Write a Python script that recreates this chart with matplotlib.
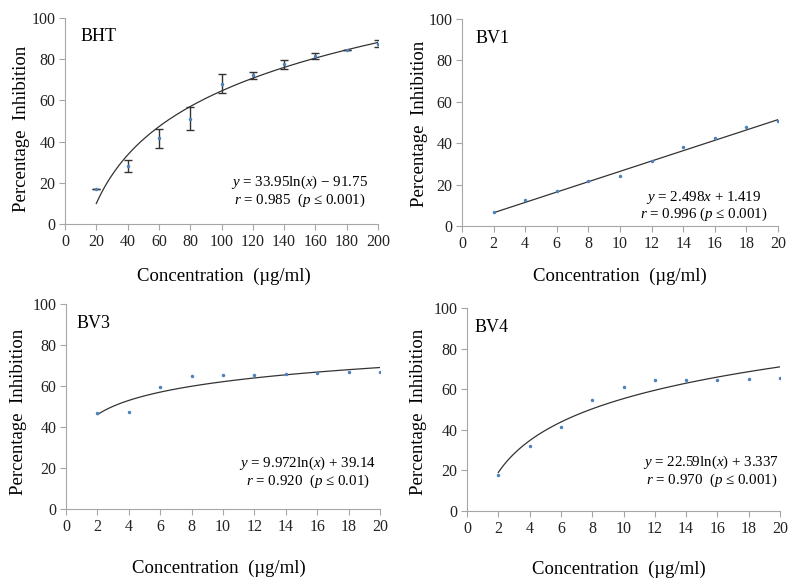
import numpy as np
import matplotlib
matplotlib.use("Agg")
import matplotlib.pyplot as plt

plt.rcParams["font.family"] = ["Liberation Serif", "DejaVu Serif"]
plt.rcParams["mathtext.fontset"] = "custom"
plt.rcParams["mathtext.rm"] = "Liberation Serif"
plt.rcParams["mathtext.it"] = "Liberation Serif:italic"

# BHT (with error bars)
bht_x = [20, 40, 60, 80, 100, 120, 140, 160, 180, 200]
bht_y = [16.8, 28.2, 41.7, 51.1, 68.1, 72.2, 77.6, 81.5, 84.5, 87.6]
bht_err = [0.0, 2.8, 4.6, 5.7, 4.5, 1.8, 2.2, 1.6, 0.2, 1.9]

# BV samples
bv_x = [2, 4, 6, 8, 10, 12, 14, 16, 18, 20]
bv1_y = [6.8, 12.8, 17.0, 21.7, 24.2, 31.4, 38.1, 42.3, 47.8, 50.8]
bv3_y = [46.6, 47.1, 59.3, 65.1, 65.4, 65.5, 65.8, 66.2, 66.6, 66.8]
bv4_y = [17.8, 32.0, 41.3, 54.8, 61.1, 64.7, 64.3, 64.3, 65.0, 65.3]

# trendline coefficients (as printed on the chart)
bht_fit = (33.95, -91.75)   # log
bv1_fit = (2.498, 1.419)    # linear
bv3_fit = (9.972, 39.14)    # log
bv4_fit = (22.59, 3.337)    # log

bht_eq = [r"$\mathit{y}$ = 33.95ln($\mathit{x}$) − 91.75", r"$\mathit{r}$ = 0.985  ($\mathit{p}$ ≤ 0.001)"]
bv1_eq = [r"$\mathit{y}$ = 2.498$\mathit{x}$ + 1.419", r"$\mathit{r}$ = 0.996 ($\mathit{p}$ ≤ 0.001)"]
bv3_eq = [r"$\mathit{y}$ = 9.972ln($\mathit{x}$) + 39.14", r"$\mathit{r}$ = 0.920  ($\mathit{p}$ ≤ 0.01)"]
bv4_eq = [r"$\mathit{y}$ = 22.59ln($\mathit{x}$) + 3.337", r"$\mathit{r}$ = 0.970  ($\mathit{p}$ ≤ 0.001)"]

W, H = 799, 584
fig = plt.figure(figsize=(W / 100, H / 100), dpi=100)

grey = "#a6a6a6"
dot = "#4f81bd"


def make_ax(l, r, t, b, xlab_pos, ylab_pos):
    ax = fig.add_axes([l / W, 1 - b / H, (r - l) / W, (b - t) / H])
    for s in ["top", "right"]:
        ax.spines[s].set_visible(False)
    for s in ["left", "bottom"]:
        ax.spines[s].set_color(grey)
        ax.spines[s].set_linewidth(0.8)
    ax.tick_params(direction="out", length=4, width=0.8, color=grey,
                   labelsize=11.5, labelcolor="#222222", pad=3)
    ax.set_ylim(0, 100)
    ax.set_yticks([0, 20, 40, 60, 80, 100])
    ax.set_xlabel("Concentration  (µg/ml)", fontsize=13.5)
    ax.set_ylabel("Percentage  Inhibition", fontsize=13.5)
    ax.xaxis.set_label_coords(*xlab_pos)
    ax.yaxis.set_label_coords(*ylab_pos)
    return ax


def add_eq(ax, lines, xc, y1, y2):
    ax.text(xc, y1, lines[0], ha="center", va="center", fontsize=10.8)
    ax.text(xc, y2, lines[1], ha="center", va="center", fontsize=10.8)


# panel 1: BHT
ax1 = make_ax(65, 378, 18, 224, (0.508, -0.212), (-0.111, 0.464))
ax1.set_xlim(0, 200)
ax1.set_xticks(range(0, 201, 20))
ax1.errorbar(bht_x, bht_y, yerr=bht_err, fmt="o", ms=1.5, color=dot,
             ecolor="#333333", elinewidth=1.0, capsize=3, capthick=1.0)
xx = np.linspace(20, 200, 200)
ax1.plot(xx, bht_fit[0] * np.log(xx) + bht_fit[1], color="#333333", lw=0.9)
ax1.text(10, 89, "BHT", fontsize=13)
add_eq(ax1, bht_eq, 150, 20.2, 11.4)

# panel 2: BV1
ax2 = make_ax(462, 778, 19, 226, (0.5, -0.202), (-0.108, 0.493))
ax2.set_xlim(0, 20)
ax2.set_xticks(range(0, 21, 2))
xx = np.linspace(2, 20, 100)
ax2.plot(xx, bv1_fit[0] * xx + bv1_fit[1], color="#333333", lw=0.9)
ax2.plot(bv_x, bv1_y, "o", ms=1.5, color=dot)
ax2.text(0.85, 88.5, "BV1", fontsize=13)
add_eq(ax2, bv1_eq, 15.3, 13.8, 5.5)

# panel 3: BV3
ax3 = make_ax(66, 380, 304, 509, (0.487, -0.247), (-0.124, 0.473))
ax3.set_xlim(0, 20)
ax3.set_xticks(range(0, 21, 2))
ax3.plot(xx, bv3_fit[0] * np.log(xx) + bv3_fit[1], color="#333333", lw=0.9)
ax3.plot(bv_x, bv3_y, "o", ms=1.5, color=dot)
ax3.text(0.7, 88.5, "BV3", fontsize=13)
add_eq(ax3, bv3_eq, 15.4, 22.3, 13.5)

# panel 4: BV4
ax4 = make_ax(467, 780, 308, 511, (0.486, -0.246), (-0.127, 0.488))
ax4.set_xlim(0, 20)
ax4.set_xticks(range(0, 21, 2))
ax4.plot(xx, bv4_fit[0] * np.log(xx) + bv4_fit[1], color="#333333", lw=0.9)
ax4.plot(bv_x, bv4_y, "o", ms=1.5, color=dot)
ax4.text(0.45, 88, "BV4", fontsize=13)
add_eq(ax4, bv4_eq, 15.6, 23.8, 15)

fig.savefig("out.png", dpi=100)
